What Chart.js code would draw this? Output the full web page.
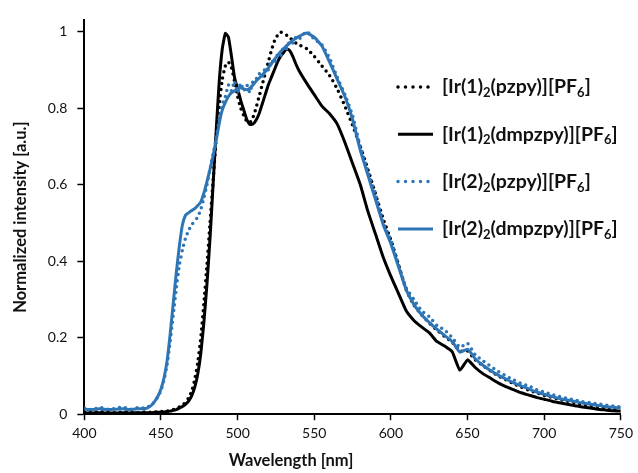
<!DOCTYPE html>
<html>
<head>
<meta charset="utf-8">
<script src="https://cdn.jsdelivr.net/npm/chart.js@4.4.1/dist/chart.umd.min.js"></script>
<style>
  html, body { margin: 0; padding: 0; background: #fff; }
  #wrap { width: 638px; height: 473px; }
</style>
</head>
<body>
<div id="wrap"><canvas id="grafico"></canvas></div>
<script>
// comprimentos de onda (nm)
const wavelengths = [400,405,410,415,420,425,430,435,440,
  442,444,446,448,450, 452,454,456,458,460, 462,464,466,468,470,
  472,474,476,478,480, 482,484,486,488,490, 492,494,496,498,500,
  502,504,506,508,510, 512,514,516,518,520, 522,524,526,528,530,
  532,534,536,538,540,
  545,550,555,560,565,570,575,580,585,590,
  595,600,605,610,615,620,625,630,635,640,
  645,650,655,660,665,670,675,680,685,690,
  695,700,705,710,715,720,725,730,735,740,
  745,750];

// [Ir(1)2(pzpy)][PF6]
const ir1Pzpy = [0.006,0.004,0.007,0.005,0.004,0.006,0.005,0.004,0.006,
  0.005,0.006,0.006,0.005,0.007, 0.008,0.008,0.010,0.012,0.015, 0.019,0.024,0.031,0.042,0.060,
  0.090,0.135,0.200,0.290,0.390, 0.500,0.610,0.720,0.810,0.875, 0.910,0.920,0.905,0.870,0.830,
  0.800,0.780,0.765,0.762,0.775, 0.800,0.830,0.860,0.890,0.920, 0.950,0.975,0.990,0.998,0.995,
  0.990,0.985,0.975,0.970,0.965,
  0.955,0.935,0.910,0.885,0.850,0.805,0.755,0.700,0.640,0.575,
  0.510,0.455,0.390,0.325,0.285,0.260,0.238,0.220,0.203,0.188,
  0.165,0.165,0.142,0.127,0.113,0.100,0.090,0.080,0.071,0.063,
  0.056,0.049,0.044,0.039,0.034,0.030,0.026,0.023,0.020,0.017,
  0.015,0.013];

// [Ir(1)2(dmpzpy)][PF6]
const ir1Dmpzpy = [0.004,0.003,0.004,0.003,0.003,0.004,0.003,0.004,0.004,
  0.004,0.004,0.005,0.005,0.005, 0.006,0.007,0.008,0.010,0.012, 0.016,0.020,0.026,0.034,0.048,
  0.070,0.105,0.160,0.240,0.340, 0.460,0.600,0.740,0.870,0.955, 0.995,0.985,0.935,0.880,0.850,
  0.820,0.795,0.770,0.757,0.758, 0.768,0.785,0.810,0.835,0.860, 0.880,0.900,0.920,0.935,0.945,
  0.955,0.950,0.935,0.915,0.898,
  0.865,0.835,0.805,0.785,0.758,0.710,0.655,0.600,0.530,0.470,
  0.410,0.360,0.315,0.270,0.245,0.228,0.213,0.190,0.178,0.163,
  0.115,0.142,0.122,0.106,0.094,0.082,0.072,0.064,0.056,0.050,
  0.044,0.039,0.034,0.030,0.026,0.022,0.019,0.016,0.013,0.011,
  0.009,0.008];

// [Ir(2)2(pzpy)][PF6]
const ir2Pzpy = [0.016,0.012,0.018,0.013,0.015,0.019,0.013,0.017,0.016,
  0.020,0.025,0.033,0.046,0.062, 0.090,0.130,0.190,0.260,0.330, 0.390,0.430,0.460,0.480,0.495,
  0.505,0.515,0.535,0.565,0.600, 0.640,0.680,0.720,0.770,0.810, 0.830,0.860,0.845,0.870,0.840,
  0.865,0.845,0.860,0.840,0.870, 0.875,0.890,0.880,0.905,0.900, 0.925,0.915,0.940,0.935,0.960,
  0.955,0.975,0.970,0.985,0.980,
  1.000,0.980,0.965,0.930,0.880,0.835,0.780,0.700,0.635,0.575,
  0.500,0.455,0.390,0.330,0.300,0.270,0.255,0.232,0.220,0.200,
  0.175,0.185,0.155,0.140,0.125,0.112,0.100,0.090,0.080,0.074,
  0.064,0.058,0.052,0.046,0.041,0.037,0.033,0.030,0.027,0.024,
  0.021,0.019];

// [Ir(2)2(dmpzpy)][PF6]
const ir2Dmpzpy = [0.013,0.012,0.014,0.012,0.013,0.014,0.012,0.014,0.015,
  0.018,0.024,0.034,0.047,0.066, 0.095,0.140,0.210,0.290,0.370, 0.440,0.495,0.520,0.526,0.532,
  0.537,0.545,0.555,0.578,0.608, 0.640,0.675,0.715,0.760,0.795, 0.815,0.830,0.840,0.845,0.850,
  0.853,0.850,0.848,0.852,0.860, 0.870,0.878,0.886,0.895,0.905, 0.915,0.927,0.937,0.947,0.955,
  0.963,0.970,0.977,0.982,0.987,
  0.996,0.985,0.962,0.920,0.875,0.830,0.770,0.690,0.625,0.560,
  0.495,0.445,0.385,0.325,0.287,0.260,0.240,0.222,0.206,0.190,
  0.162,0.170,0.145,0.128,0.114,0.102,0.092,0.082,0.074,0.066,
  0.058,0.052,0.046,0.041,0.037,0.033,0.029,0.026,0.023,0.020,
  0.018,0.016];

const seriesNames = ['[Ir(1)_2(pzpy)][PF_6]', '[Ir(1)_2(dmpzpy)][PF_6]',
                     '[Ir(2)_2(pzpy)][PF_6]', '[Ir(2)_2(dmpzpy)][PF_6]'];
const yTicks = [0, 0.2, 0.4, 0.6, 0.8, 1];
const xTitle = 'Wavelength [nm]';
const yTitle = 'Normalized intensity [a.u.]';

const preto = '#000000';
const azul = '#2E75B6';

function pontos(valores) {
  return wavelengths.map((w, i) => ({ x: w, y: valores[i] }));
}

// legenda desenhada à mão por causa dos subscritos
const legendaSubscrito = {
  id: 'legendaSubscrito',
  afterDraw(chart) {
    const ctx = chart.ctx;
    const x0 = 398, y0 = 87, passo = 47.3;
    chart.data.datasets.forEach((ds, i) => {
      const y = y0 + i * passo;
      ctx.save();
      ctx.strokeStyle = ds.borderColor;
      ctx.lineWidth = ds.borderWidth;
      ctx.lineCap = ds.borderDash ? 'round' : 'butt';
      ctx.setLineDash(ds.borderDash ? [0, 7.5] : []);
      ctx.beginPath();
      ctx.moveTo(x0, y);
      ctx.lineTo(x0 + 35, y);
      ctx.stroke();

      ctx.fillStyle = '#111';
      ctx.textBaseline = 'middle';
      let x = 442;
      ds.label.split(/(_\d)/).forEach(parte => {
        if (!parte) return;
        if (parte[0] === '_') {
          ctx.font = 'bold 13px Lato';
          ctx.fillText(parte.slice(1), x, y + 6);
          x += ctx.measureText(parte.slice(1)).width;
        } else {
          ctx.font = 'bold 19.5px Lato';
          ctx.fillText(parte, x, y);
          x += ctx.measureText(parte).width;
        }
      });
      ctx.restore();
    });
  }
};

// título do eixo x fora do centro, como no original
const tituloX = {
  id: 'tituloX',
  afterDraw(chart) {
    const ctx = chart.ctx;
    ctx.save();
    ctx.font = 'bold 16.5px Lato';
    ctx.fillStyle = '#111';
    ctx.textAlign = 'center';
    ctx.textBaseline = 'middle';
    ctx.fillText(xTitle, 291, 461);
    ctx.restore();
  }
};

new Chart(document.getElementById('grafico'), {
  type: 'line',
  data: {
    datasets: [
      { label: seriesNames[0], data: pontos(ir1Pzpy), borderColor: preto, borderWidth: 3.5,
        borderDash: [0, 6], borderCapStyle: 'round', pointRadius: 0, order: 3 },
      { label: seriesNames[1], data: pontos(ir1Dmpzpy), borderColor: preto, borderWidth: 3,
        pointRadius: 0, order: 2 },
      { label: seriesNames[2], data: pontos(ir2Pzpy), borderColor: azul, borderWidth: 3.5,
        borderDash: [0, 6], borderCapStyle: 'round', pointRadius: 0, order: 1 },
      { label: seriesNames[3], data: pontos(ir2Dmpzpy), borderColor: azul, borderWidth: 3,
        pointRadius: 0, order: 0 }
    ]
  },
  options: {
    responsive: true,
    maintainAspectRatio: false,
    animation: false,
    layout: { padding: { left: 5, right: 0, top: 20, bottom: 26 } },
    plugins: { legend: { display: false }, tooltip: { enabled: false } },
    elements: { line: { tension: 0.15 } },
    scales: {
      x: {
        type: 'linear', min: 400, max: 750,
        grid: { drawOnChartArea: false, color: '#000', tickLength: 6, tickWidth: 1.5 },
        border: { color: '#000', width: 2 },
        ticks: { stepSize: 50, color: '#111', padding: 5, font: { family: 'Lato', size: 14 } }
      },
      y: {
        min: 0, max: 1.03,
        afterBuildTicks: s => { s.ticks = yTicks.map(v => ({ value: v })); },
        grid: { drawOnChartArea: false, color: '#000', tickLength: 7, tickWidth: 1.5 },
        border: { color: '#000', width: 2 },
        ticks: { color: '#111', padding: 10, font: { family: 'Lato', size: 14 },
                 callback: v => String(v) },
        title: { display: true, text: yTitle, color: '#111', padding: { top: 6, bottom: 7 },
                 font: { family: 'Lato', size: 16.5, weight: 'bold' } }
      }
    }
  },
  plugins: [legendaSubscrito, tituloX]
});
</script>
</body>
</html>
